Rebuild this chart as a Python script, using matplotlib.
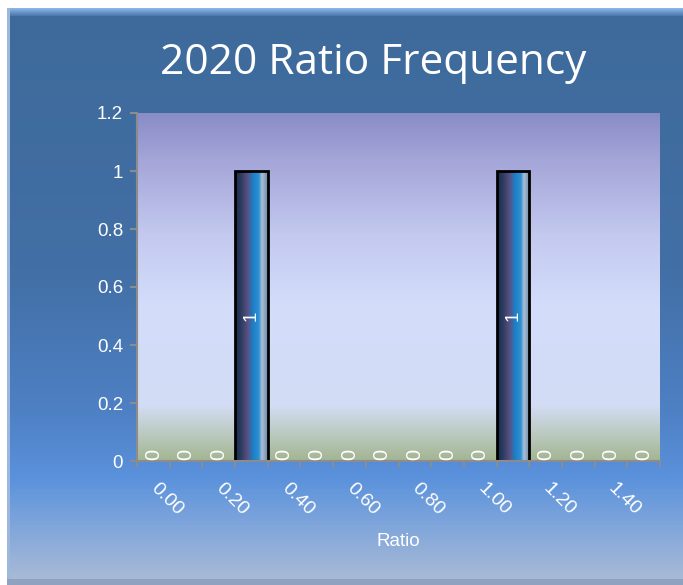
import matplotlib
matplotlib.use('Agg')
import matplotlib.pyplot as plt
import numpy as np
from matplotlib.colors import LinearSegmentedColormap
from matplotlib.patches import Rectangle

plt.rcParams['font.family'] = ['Liberation Sans', 'DejaVu Sans']

# 直方图数据：比值分组（步长0.1）与频数
bins = ['0.00', '0.10', '0.20', '0.30', '0.40', '0.50', '0.60', '0.70',
        '0.80', '0.90', '1.00', '1.10', '1.20', '1.30', '1.40', '1.50']
counts = [0, 0, 0, 1, 0, 0, 0, 0, 0, 0, 0, 1, 0, 0, 0, 0]
title = '2020 Ratio Frequency'
xlabel = 'Ratio'

W, H = 683, 585
fig = plt.figure(figsize=(W / 100, H / 100), dpi=100)
fig.patch.set_facecolor('white')

# 外框渐变背景
bg = fig.add_axes([0, 0, 1, 1], zorder=-10)
bg.set_xlim(0, W)
bg.set_ylim(H, 0)
bg.axis('off')
frame_cmap = LinearSegmentedColormap.from_list('frame', [
    (0.00, '#3e6a9b'), (0.45, '#426fa5'), (0.70, '#4e80c4'),
    (0.82, '#5b92dc'), (0.90, '#7ea5db'), (1.00, '#a9bad6')])
grad = np.linspace(0, 1, 256).reshape(-1, 1)
bg.imshow(grad, cmap=frame_cmap, extent=[7, W, H - 4, 15], aspect='auto')
# 顶部与左侧的斜面高光
bg.imshow(np.linspace(0, 1, 20).reshape(-1, 1),
          cmap=LinearSegmentedColormap.from_list('bev', ['#8fb6e8', '#4a78ad']),
          extent=[7, W, 16, 8], aspect='auto')
bg.add_patch(Rectangle((7, 8), 3, H - 8, color='#9db8dc', lw=0))
bg.add_patch(Rectangle((7, H - 6), W - 7, 6, color='#8fa2bf', lw=0))

ax = fig.add_axes([137 / W, 1 - 461 / H, 523 / W, 348 / H])
ax.set_xlim(-0.5, len(bins) - 0.5)
ax.set_ylim(0, 1.2)

# 绘图区渐变
plot_cmap = LinearSegmentedColormap.from_list('plot', [
    (0.00, '#a3b592'), (0.08, '#bccbc3'), (0.16, '#d4dcf5'),
    (0.45, '#d3ddfa'), (0.65, '#c3c9ef'), (0.85, '#a7a8da'), (1.00, '#8a8cc7')])
ax.imshow(np.linspace(0, 1, 256).reshape(-1, 1), cmap=plot_cmap, origin='lower',
          extent=[0, 1, 0, 1], transform=ax.transAxes, aspect='auto', zorder=0)

x = np.arange(len(bins))
bars = ax.bar(x, counts, width=1.0, facecolor='none', edgecolor='black',
              linewidth=2, zorder=3)

bar_cmap = LinearSegmentedColormap.from_list('bar', [
    (0.00, '#1a2a47'), (0.18, '#2b3c62'), (0.38, '#5a4f80'),
    (0.55, '#1b80c8'), (0.72, '#2c8fd2'), (0.82, '#a9bfd6'), (1.00, '#6d86a6')])
hgrad = np.linspace(0, 1, 256).reshape(1, -1)
for b, v in zip(bars, counts):
    if v > 0:
        im = ax.imshow(hgrad, cmap=bar_cmap, aspect='auto', zorder=2,
                       extent=[b.get_x(), b.get_x() + b.get_width(), 0, v])
        im.set_clip_path(b)

# 数据标签
for i, v in enumerate(counts):
    if v > 0:
        ax.text(i, v / 2, str(v), rotation=90, ha='center', va='center',
                color='white', fontsize=13.5, zorder=5)
    else:
        ax.text(i, 0.005, str(v), rotation=90, ha='center', va='bottom',
                color='white', fontsize=14.5, zorder=5)

# 坐标轴样式
for s in ['top', 'right']:
    ax.spines[s].set_visible(False)
for s in ['left', 'bottom']:
    ax.spines[s].set_color('#8c8c8c')
    ax.spines[s].set_linewidth(1.5)
    ax.spines[s].set_zorder(4)

ax.set_yticks(np.arange(0, 1.21, 0.2))
ax.set_yticklabels(['0', '0.2', '0.4', '0.6', '0.8', '1', '1.2'])
ax.tick_params(axis='y', colors='#8c8c8c', labelcolor='white', labelsize=13.5,
               length=5, width=1.5, pad=5)

ax.set_xticks(np.arange(-0.5, len(bins), 1.0))
ax.set_xticklabels([])
ax.tick_params(axis='x', which='major', colors='#8c8c8c', length=4, width=1.5)
ax.set_xticks(x[::2], minor=True)
ax.set_xticklabels(bins[::2], minor=True, rotation=-45, rotation_mode='anchor',
                   ha='left', va='center')
ax.tick_params(axis='x', which='minor', length=0, labelcolor='white',
               labelsize=14, pad=18)

ax.set_xlabel(xlabel, color='white', fontsize=13.5, labelpad=10)
fig.text(373 / W, 1 - 63 / H, title, color='white', fontsize=30.5,
         family=['Open Sans', 'DejaVu Sans'], ha='center', va='center')

plt.savefig('out.png', dpi=100)
plt.close()
